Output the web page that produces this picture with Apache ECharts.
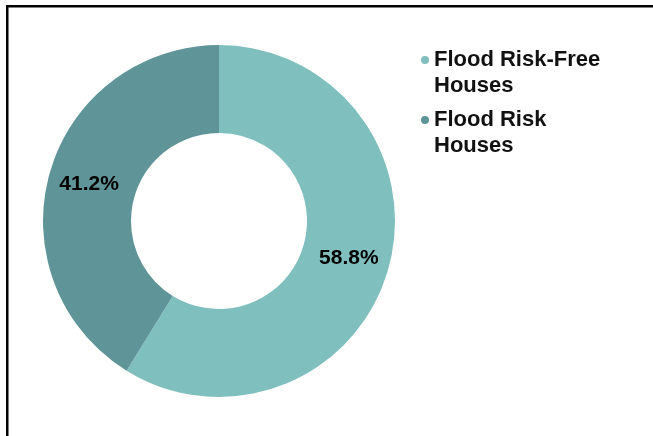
<!DOCTYPE html>
<html>
<head>
<meta charset="utf-8">
<script src="https://cdn.jsdelivr.net/npm/echarts@6/dist/echarts.min.js"></script>
<style>
  html, body { margin: 0; padding: 0; background: #fff; }
  #chart { width: 653px; height: 436px; }
</style>
</head>
<body>
<div id="chart"></div>
<script>
// 数据
const categories = ['Flood Risk-Free\nHouses', 'Flood Risk\nHouses']
const values = [58.8, 41.2]
const colors = ['#7fbfbe', '#5f9598']

// 图例图标：圆点在顶部，与第一行文字对齐
const legendIcon = 'path://M0,4a4,4 0 1,0 8,0a4,4 0 1,0 -8,0z M4,34 L4.01,34'

const chart = echarts.init(document.getElementById('chart'))

chart.setOption({
  animation: false,
  color: colors,
  graphic: [
    // 左边和上边的黑框线
    { type: 'rect', shape: { x: 6, y: 5, width: 647, height: 2.5 }, style: { fill: '#000' } },
    { type: 'rect', shape: { x: 6, y: 5, width: 2.5, height: 431 }, style: { fill: '#000' } },
  ],
  legend: {
    orient: 'vertical',
    left: 416,
    top: 42,
    icon: legendIcon,
    itemWidth: 8,
    itemHeight: 34,
    itemGap: 8,
    textStyle: {
      fontFamily: 'Liberation Sans, Arial, sans-serif',
      fontWeight: 'bold',
      fontSize: 22,
      lineHeight: 26,
      color: '#111',
    },
  },
  series: [{
    type: 'pie',
    center: [219, 221],
    radius: [88, 176],
    startAngle: 90,
    clockwise: true,
    label: {
      position: 'inside',
      formatter: p => p.value.toFixed(1) + '%',
      fontFamily: 'Liberation Sans, Arial, sans-serif',
      fontWeight: 'bold',
      fontSize: 21,
      color: '#000',
    },
    labelLine: { show: false },
    itemStyle: { borderWidth: 0 },
    data: categories.map((name, i) => ({ name, value: values[i] })),
  }],
})
</script>
</body>
</html>
